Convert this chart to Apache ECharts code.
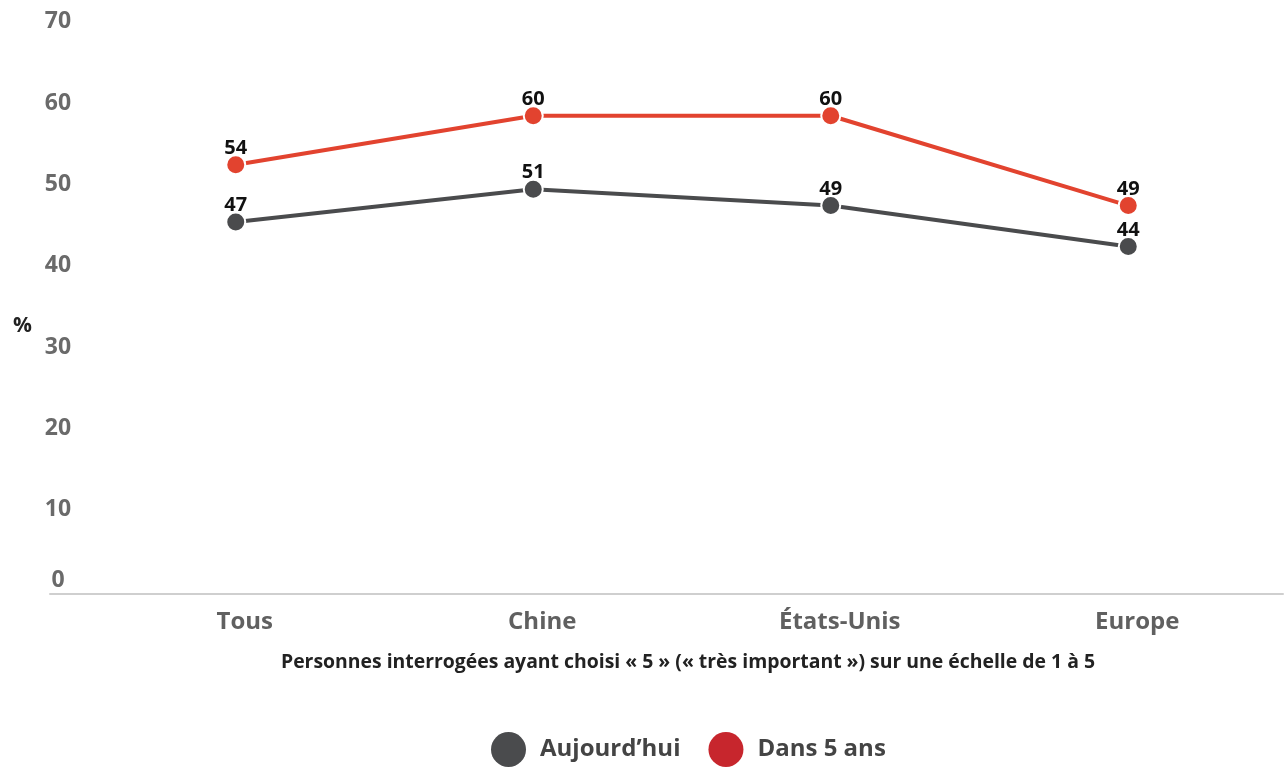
<!DOCTYPE html>
<html><head><meta charset="utf-8">
<script src="https://cdn.jsdelivr.net/npm/echarts@6/dist/echarts.min.js"></script>
<style>html,body{margin:0;padding:0;background:#fff}#c{width:1285px;height:767px}</style>
</head><body><div id="c"></div>
<script>
const categories = ['Tous', 'Chine', 'États-Unis', 'Europe'];
const aujourdhui = [47, 51, 49, 44];
const dans5ans = [54, 60, 60, 49];
const yTicks = [0, 10, 20, 30, 40, 50, 60, 70];
const xTitle = 'Personnes interrogées ayant choisi « 5 » (« très important ») sur une échelle de 1 à 5';

const FONT = '"Open Sans", "DejaVu Sans", sans-serif';
const chart = echarts.init(document.getElementById('c'));
const yLabelStyle = {color: '#6a6a6a', fontFamily: FONT, fontWeight: 'bold', fontSize: 23};
chart.setOption({
  animation: false,
  grid: [
    {left: 50, right: 2, top: 24.7, bottom: 173},
    {left: 87, right: 8, top: 34, bottom: 161}
  ],
  xAxis: [
    {gridIndex: 0, type: 'value', min: 0, max: 1,
     axisLine: {show: true, lineStyle: {color: '#cfcfcf', width: 2}},
     axisTick: {show: false}, axisLabel: {show: false}, splitLine: {show: false}},
    {gridIndex: 1, type: 'category', data: categories, boundaryGap: true,
     axisLine: {show: false}, axisTick: {show: false}, splitLine: {show: false},
     axisLabel: {margin: 4, padding: [0, 0, 0, 18], color: '#606060', fontFamily: FONT, fontWeight: 'bold', fontSize: 24},
     name: xTitle, nameLocation: 'middle', nameGap: 47,
     nameTextStyle: {color: '#222', fontFamily: FONT, fontWeight: 'bold', fontSize: 19.4, padding: [0, 0, 0, 12]}}
  ],
  yAxis: [
    {gridIndex: 0, type: 'value', min: yTicks[0], max: yTicks[yTicks.length - 1], interval: 10,
     axisLine: {show: false}, axisTick: {show: false}, splitLine: {show: false},
     axisLabel: {align: 'center', margin: -8,
       formatter: v => v === 0 ? '{z|0}' : '{n|' + v + '}',
       rich: {z: Object.assign({padding: [0, 0, 28, 0]}, yLabelStyle),
              n: Object.assign({padding: [0, 0, 6, 0]}, yLabelStyle)}},
     name: '{p|%}', nameLocation: 'middle', nameRotate: 0, nameGap: 18,
     nameTextStyle: {rich: {p: {color: '#222', fontFamily: FONT, fontWeight: 'bold', fontSize: 21, padding: [34, 0, 0, 0]}}}},
    {gridIndex: 1, type: 'value', min: yTicks[0], max: yTicks[yTicks.length - 1], interval: 10, show: false}
  ],
  legend: {
    bottom: 0, left: 491, padding: 0, itemWidth: 35, itemHeight: 35, itemGap: 28, icon: 'circle',
    textStyle: {color: '#444', fontFamily: FONT, fontWeight: 'bold', fontSize: 24, padding: [0, 0, 0, 9]},
    data: [
      {name: 'Aujourd’hui', itemStyle: {color: '#4a4b4d', borderWidth: 0}},
      {name: 'Dans 5 ans', itemStyle: {color: '#c7262d', borderWidth: 0}}
    ]
  },
  series: [
    {name: 'Aujourd’hui', type: 'line', xAxisIndex: 1, yAxisIndex: 1, data: aujourdhui,
     symbol: 'circle', symbolSize: 19, color: '#4a4b4d',
     lineStyle: {width: 4, color: '#4a4b4d'},
     itemStyle: {color: '#4a4b4d', borderColor: '#fff', borderWidth: 2},
     label: {show: true, position: 'top', distance: -4, color: '#111', fontFamily: FONT, fontWeight: 'bold', fontSize: 20}},
    {name: 'Dans 5 ans', type: 'line', xAxisIndex: 1, yAxisIndex: 1, data: dans5ans,
     symbol: 'circle', symbolSize: 19, color: '#e2432f',
     lineStyle: {width: 4, color: '#e2432f'},
     itemStyle: {color: '#e2432f', borderColor: '#fff', borderWidth: 2},
     label: {show: true, position: 'top', distance: -4, color: '#111', fontFamily: FONT, fontWeight: 'bold', fontSize: 20}}
  ]
});
</script></body></html>
